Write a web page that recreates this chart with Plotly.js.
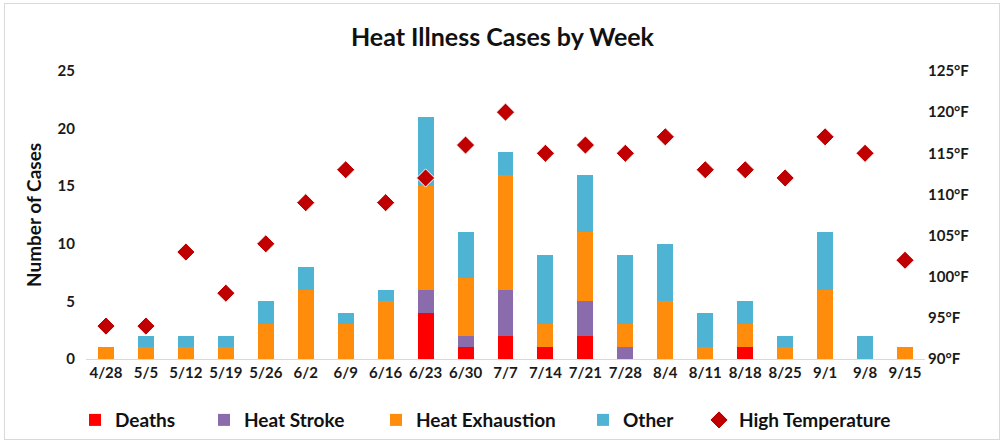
<!DOCTYPE html>
<html><head><meta charset="utf-8">
<script src="https://cdn.plot.ly/plotly-3.0.1.min.js"></script>
<style>
html,body{margin:0;padding:0;background:#fff;}
#wrap{position:absolute;left:4px;top:3px;width:996px;height:437px;border:1px solid #d9d9d9;box-sizing:border-box;}
#chart{position:absolute;left:0;top:0;width:1005px;height:444px;}
</style></head>
<body>
<div id="wrap"></div>
<div id="chart"></div>
<script>
const weeks = ["4/28","5/5","5/12","5/19","5/26","6/2","6/9","6/16","6/23","6/30","7/7","7/14","7/21","7/28","8/4","8/11","8/18","8/25","9/1","9/8","9/15"];
const deaths = [0,0,0,0,0,0,0,0,4,1,2,1,2,0,0,0,1,0,0,0,0];
const heatStroke = [0,0,0,0,0,0,0,0,2,1,4,0,3,1,0,0,0,0,0,0,0];
const heatExhaustion = [1,1,1,1,3,6,3,5,9,5,10,2,6,2,5,1,2,1,6,0,1];
const other = [0,1,1,1,2,2,1,1,6,4,2,6,5,6,5,3,2,1,5,2,0];
const highTemp = [94,94,103,98,104,109,113,109,112,116,120,115,116,115,117,113,113,112,117,115,102];
const yTitle = 'Number of Cases';

const font = "Lato, 'Open Sans', sans-serif";
const tickFont = {size:15, family:font, color:'#1a1a1a', weight:'bold'};
function bar(name, y, color, leg){
  return {type:'bar', name:name, x:weeks, y:y, marker:{color:color}, legend:leg, hoverinfo:'x+y+name'};
}
const data = [
  bar('Deaths', deaths, '#FF0000', 'legend'),
  bar('Heat Stroke', heatStroke, '#8A6CAD', 'legend2'),
  bar('Heat Exhaustion', heatExhaustion, '#FF8C0A', 'legend3'),
  bar('Other', other, '#4FB4D3', 'legend4'),
  {type:'scatter', mode:'markers', name:'High Temperature', x:weeks, y:highTemp, yaxis:'y2', legend:'legend5',
   marker:{symbol:'diamond', size:14, color:'#C00000', line:{color:'#ffffff', width:1}}}
];
function leg(px){
  return {xref:'container', x:px/1005, xanchor:'left', y:-0.146, yanchor:'top', orientation:'h',
    font:{size:19, family:font, color:'#111', weight:'bold'}, itemwidth:30, bgcolor:'rgba(0,0,0,0)'};
}
const layout = {
  width:1005, height:444,
  paper_bgcolor:'rgba(0,0,0,0)', plot_bgcolor:'rgba(0,0,0,0)',
  barmode:'stack', bargap:0.6,
  margin:{l:86, r:80, t:71, b:85, autoexpand:false},
  font:{family:font, color:'#1a1a1a', size:13},
  title:{text:'<b>Heat Illness Cases by Week</b>', x:0.5, xanchor:'center', y:0.915, yanchor:'middle', font:{size:25, family:font, color:'#111'}},
  xaxis:{type:'category', range:[-0.5, weeks.length-0.5], showgrid:false, showline:true, linecolor:'#d9d9d9', linewidth:1, ticks:'', automargin:false,
    tickfont:tickFont, fixedrange:true},
  yaxis:{range:[0,25], dtick:5, showgrid:false, zeroline:false, showline:false, ticks:'', automargin:false,
    tickfont:tickFont, ticklabelstandoff:10},
  yaxis2:{range:[90,125], dtick:5, overlaying:'y', side:'right', showgrid:false, zeroline:false, showline:false, ticks:'', automargin:false,
    ticksuffix:'°F', tickfont:tickFont, ticklabelstandoff:2},
  annotations:[{text:'<b>'+yTitle+'</b>', xref:'paper', yref:'paper', x:(33-86)/839, y:0.5, xanchor:'center', yanchor:'middle',
    textangle:-90, showarrow:false, font:{size:19, family:font, color:'#111'}}],
  legend: leg(75),
  legend2: leg(204),
  legend3: leg(376),
  legend4: leg(583),
  legend5: leg(699),
  showlegend:true
};
Plotly.newPlot('chart', data, layout, {displayModeBar:false, staticPlot:true});
</script>
</body></html>
